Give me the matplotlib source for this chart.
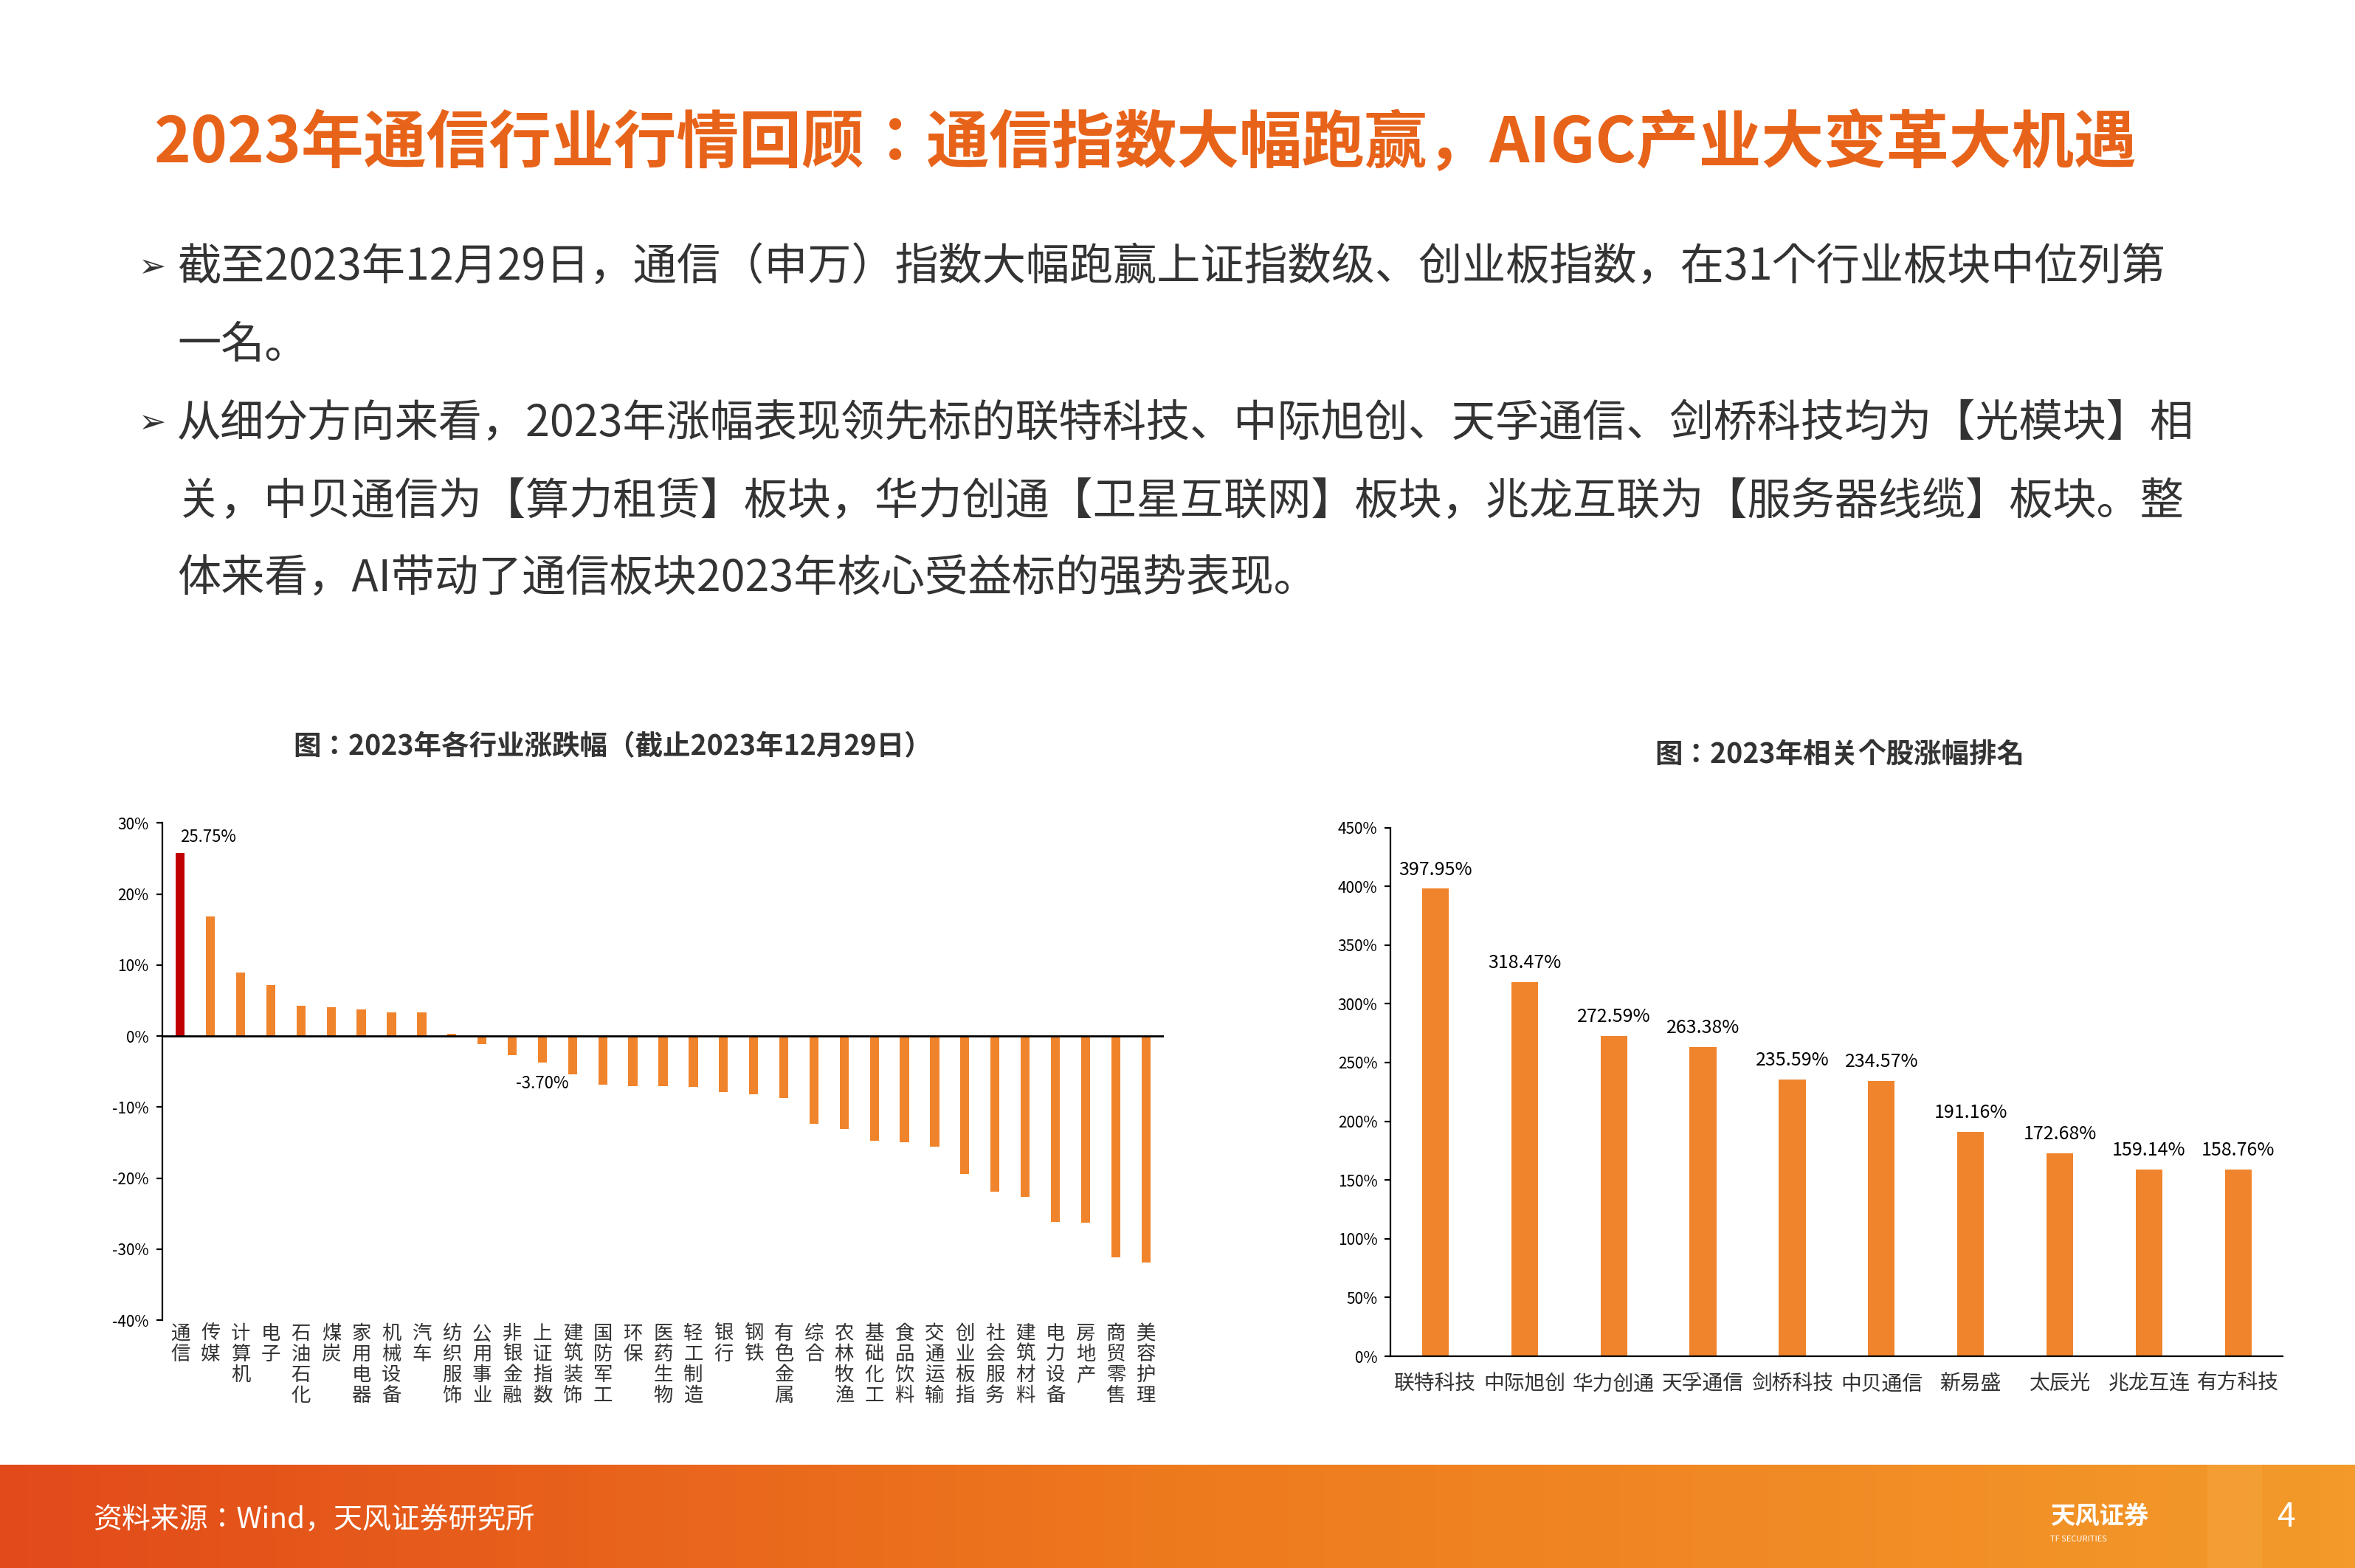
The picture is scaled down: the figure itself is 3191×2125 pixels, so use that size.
import numpy as np
import matplotlib.pyplot as plt
from matplotlib.patches import Rectangle
from matplotlib.colors import LinearSegmentedColormap

plt.rcParams["font.family"] = ["Noto Sans CJK JP", "DejaVu Sans"]

# left chart: 2023 industry returns (%)
industries = ["通信", "传媒", "计算机", "电子", "石油石化", "煤炭", "家用电器", "机械设备", "汽车",
              "纺织服饰", "公用事业", "非银金融", "上证指数", "建筑装饰", "国防军工", "环保", "医药生物",
              "轻工制造", "银行", "钢铁", "有色金属", "综合", "农林牧渔", "基础化工", "食品饮料",
              "交通运输", "创业板指", "社会服务", "建筑材料", "电力设备", "房地产", "商贸零售", "美容护理"]
ind_returns = [25.75, 16.8, 9.0, 7.2, 4.3, 4.1, 3.8, 3.3, 3.3,
               0.3, -1.1, -2.7, -3.70, -5.4, -6.8, -7.1, -7.1,
               -7.2, -7.9, -8.2, -8.7, -12.3, -13.1, -14.7, -14.9,
               -15.6, -19.4, -21.9, -22.6, -26.2, -26.3, -31.2, -31.9]

# right chart: stock returns (%)
stocks = ["联特科技", "中际旭创", "华力创通", "天孚通信", "剑桥科技", "中贝通信", "新易盛", "太辰光", "兆龙互连", "有方科技"]
stock_returns = [397.95, 318.47, 272.59, 263.38, 235.59, 234.57, 191.16, 172.68, 159.14, 158.76]

W, H = 1568, 1044
fig = plt.figure(figsize=(15.955, 10.625), dpi=200)
ORANGE = "#F0842C"
TITLE = "#E8631A"
TXT = "#333333"

def fx(x): return x / W
def fy(y): return 1 - y / H

fig.text(fx(102), fy(95), "2023年通信行业行情回顾：通信指数大幅跑赢，AIGC产业大变革大机遇",
         color=TITLE, fontsize=30.5, fontweight="bold", va="center")

lines = [("➢", "截至2023年12月29日，通信（申万）指数大幅跑赢上证指数级、创业板指数，在31个行业板块中位列第"),
         ("", "一名。"),
         ("➢", "从细分方向来看，2023年涨幅表现领先标的联特科技、中际旭创、天孚通信、剑桥科技均为【光模块】相"),
         ("", "关，中贝通信为【算力租赁】板块，华力创通【卫星互联网】板块，兆龙互联为【服务器线缆】板块。整"),
         ("", "体来看，AI带动了通信板块2023年核心受益标的强势表现。")]
for i, (b, t) in enumerate(lines):
    y = fy(178 + 52 * i)
    if b:
        fig.text(fx(92), y, b, color=TXT, fontsize=16, va="center", family="DejaVu Sans")
    fig.text(fx(118), y, t, color=TXT, fontsize=21.3, va="center")

fig.text(fx(408), fy(497), "图：2023年各行业涨跌幅（截止2023年12月29日）", color=TXT,
         fontsize=13.5, fontweight="bold", ha="center", va="center")
fig.text(fx(1225), fy(502), "图：2023年相关个股涨幅排名", color=TXT,
         fontsize=13.5, fontweight="bold", ha="center", va="center")

# left chart
ax1 = fig.add_axes([fx(108), fy(879), fx(775 - 108), fy(548) - fy(879)])
x1 = np.arange(len(industries))
cols = ["#C00000"] + [ORANGE] * (len(industries) - 1)
ax1.bar(x1, ind_returns, width=0.3, color=cols)
ax1.set_ylim(-40, 30)
ax1.set_xlim(-0.6, len(industries) - 0.4)
ax1.set_yticks(range(-40, 31, 10))
ax1.set_yticklabels([f"{v}%" for v in range(-40, 31, 10)], fontsize=7.5)
ax1.spines[["top", "right", "bottom"]].set_visible(False)
ax1.axhline(0, color="black", lw=1)
ax1.tick_params(axis="y", length=3)
ax1.set_xticks([])
for i, name in enumerate(industries):
    ax1.text(i, -40.5, "\n".join(name), ha="center", va="top", fontsize=9.5,
             color=TXT, linespacing=1.05)
ax1.text(0, 26.8, "25.75%", fontsize=8, va="bottom", ha="left")
ax1.text(12, -5.5, "-3.70%", fontsize=8, va="top", ha="center")

# right chart
ax2 = fig.add_axes([fx(926), fy(903), fx(1520 - 926), fy(551) - fy(903)])
x2 = np.arange(len(stocks))
ax2.bar(x2, stock_returns, width=0.3, color=ORANGE)
ax2.set_ylim(0, 450)
ax2.set_xlim(-0.5, len(stocks) - 0.5)
ax2.set_yticks(range(0, 451, 50))
ax2.set_yticklabels([f"{v}%" for v in range(0, 451, 50)], fontsize=7.5)
ax2.set_xticks(x2)
ax2.set_xticklabels(stocks, fontsize=10, color=TXT)
ax2.spines[["top", "right"]].set_visible(False)
ax2.tick_params(axis="y", length=3)
ax2.tick_params(axis="x", length=0, pad=8)
for xi, v in zip(x2, stock_returns):
    ax2.text(xi, v + 8, f"{v:.2f}%", ha="center", va="bottom", fontsize=9)

# footer band with gradient
fax = fig.add_axes([0, 0, 1, fy(975)])
grad = np.linspace(0, 1, 256).reshape(1, -1)
cm = LinearSegmentedColormap.from_list("f", ["#E24A1A", "#EE7A1E", "#F39A2A"])
fax.imshow(grad, aspect="auto", cmap=cm, extent=[0, 1, 0, 1])
fax.add_patch(Rectangle((fx(1470), 0), fx(35), 1, color="#F5A33A", alpha=0.6))
fax.set_xlim(0, 1); fax.set_ylim(0, 1)
fax.axis("off")
fig.text(fx(62), fy(1012), "资料来源：Wind，天风证券研究所", color="white", fontsize=14, va="center")
fig.text(fx(1365), fy(1010), "天风证券", color="white", fontsize=12, fontweight="bold", va="center")
fig.text(fx(1365), fy(1025), "TF SECURITIES", color="white", fontsize=4, va="center")
fig.text(fx(1522), fy(1010), "4", color="white", fontsize=16, ha="center", va="center")

fig.savefig("out.png", dpi=200, facecolor="white")
